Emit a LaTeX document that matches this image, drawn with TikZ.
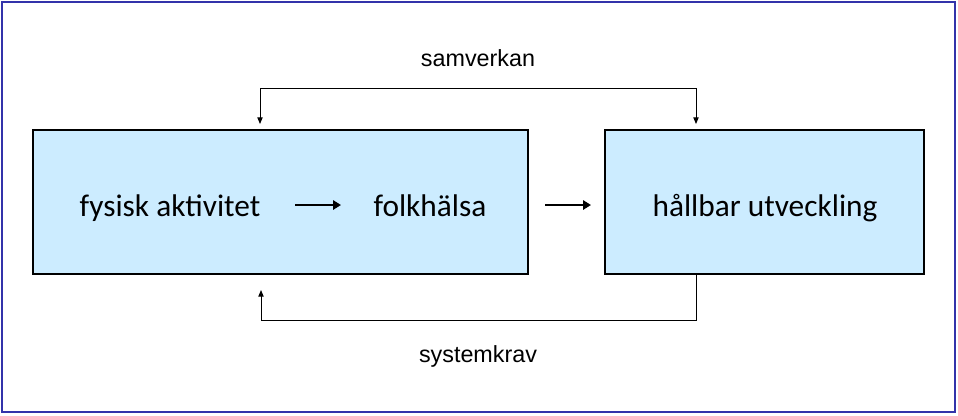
\documentclass[tikz,border=0pt]{standalone}
\usepackage{fontspec}
\setmainfont{Carlito}
\newfontfamily\arialf{Liberation Sans}
\usetikzlibrary{arrows.meta}
\definecolor{boxfill}{HTML}{CCECFF}
\definecolor{frame}{HTML}{3333AA}
\tikzset{
 x=0.75pt,y=-0.75pt,
 blk/.style={draw=black,fill=boxfill,line width=0.8pt},
 bigtxt/.style={font=\fontsize{23.5}{27}\selectfont,inner sep=0pt,anchor=base},
 lbl/.style={font=\arialf\fontsize{17.5}{20}\selectfont,inner sep=0pt},
 fb/.style={line width=0.7pt,-{Triangle[length=5pt,width=4pt]}},
 thick arrow/.style={line width=2.2pt,-{Triangle[length=6pt,width=7pt]}}
}
\begin{document}
\begin{tikzpicture}
\useasboundingbox (0,0) rectangle (958,415);
\draw[frame,line width=0.8pt] (2,2) rectangle (955,412);
\draw[blk] (33,130) rectangle (528,274);
\draw[blk] (605,130) rectangle (924,274);
\coordinate (Ltop) at (260,124); \coordinate (Lbot) at (261,290);
\coordinate (Rtop) at (696,124); \coordinate (Rbot) at (696,274);
\node[bigtxt] (fa) at (170,216) {fysisk aktivitet};
\node[bigtxt] (fh) at (430,216) {folkhälsa};
\node[bigtxt] (hu) at (765,216) {hållbar utveckling};
\coordinate (a1) at (295,205); \coordinate (a2) at (341,205);
\coordinate (b1) at (545,205); \coordinate (b2) at (591,205);
\draw[thick arrow] (a1) -- (a2);
\draw[thick arrow] (b1) -- (b2);
\node[lbl] (sv) at (478,58) {samverkan};
\node[lbl] (sk) at (478,356) {systemkrav};
\coordinate (t1) at (260,88); \coordinate (t2) at (696,88);
\draw[fb] (t1) -- (Ltop);
\draw[fb] (t1) -- (t2) -- (Rtop);
\draw[fb] (Rbot) -- (696,320) -- (261,320) -- (Lbot);
\end{tikzpicture}
\end{document}
